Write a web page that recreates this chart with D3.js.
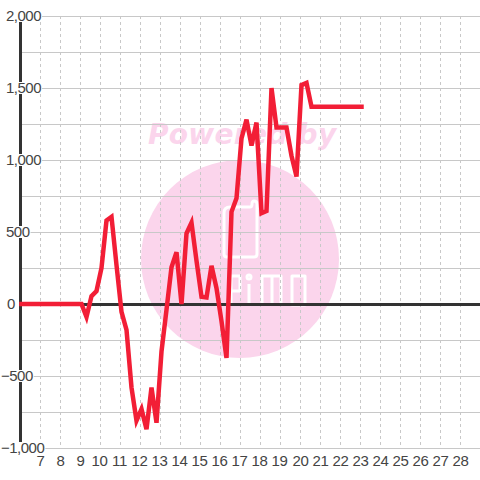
<!DOCTYPE html>
<html>
<head>
<meta charset="utf-8">
<script src="https://cdn.jsdelivr.net/npm/d3@7"></script>
<style>
  html, body { margin: 0; padding: 0; background: #fff; }
  text { font-family: "Liberation Sans", Arial, sans-serif; }
</style>
</head>
<body>
<svg id="chart" width="480" height="480"></svg>
<script>
// hour of day, one reading every quarter
const hours = [
    6, 6.25, 6.5, 6.75, 7, 7.25, 7.5, 7.75, 8, 8.25, 8.5, 8.75, 9,
    9.25, 9.5, 9.75, 10, 10.25, 10.5, 10.75, 11, 11.25, 11.5, 11.75, 12,
    12.25, 12.5, 12.75, 13, 13.25, 13.5, 13.75, 14, 14.25, 14.5, 14.75, 15,
    15.25, 15.5, 15.75, 16, 16.25, 16.5, 16.75, 17, 17.25, 17.5, 17.75, 18,
    18.25, 18.5, 18.75, 19, 19.25, 19.5, 19.75, 20, 20.25, 20.5, 20.75, 21,
    21.25, 21.5, 21.75, 22, 22.25, 22.5, 22.75, 23
];
const values = [
    0, 0, 0, 0, 0, 0, 0, 0, 0, 0, 0, 0, 0,
    -90, 55, 90, 250, 580, 605, 270, -55, -180, -580, -810, -730,
    -870, -580, -825, -330, -40, 255, 360, 0, 490, 565, 300, 50,
    45, 265, 110, -120, -375, 640, 735, 1150, 1280, 1100, 1260, 630,
    645, 1500, 1225, 1225, 1225, 1030, 885, 1520, 1535, 1370, 1370, 1370,
    1370, 1370, 1370, 1370, 1370, 1370, 1370, 1370
];
const xTicks = [7, 8, 9, 10, 11, 12, 13, 14, 15, 16, 17, 18, 19, 20, 21, 22, 23, 24, 25, 26, 27, 28];
const yGrid = [-1000, -750, -500, -250, 250, 500, 750, 1000, 1250, 1500, 1750, 2000];
const yLabels = [-1000, -500, 0, 500, 1000, 1500, 2000];

const svg = d3.select("#chart");
const x = d3.scaleLinear().domain([7, 28]).range([41, 461]);
const y = d3.scaleLinear().domain([-1000, 2000]).range([448, 16]);

// watermark under the grid
const mark = svg.append("g");
mark.append("circle")
    .attr("cx", 240).attr("cy", 259).attr("r", 99)
    .attr("fill", "#fbd5ec");
mark.append("text")
    .attr("x", 148).attr("y", 144)
    .attr("fill", "#fbd5ec")
    .style("font-size", "28px")
    .style("font-weight", "bold")
    .style("font-style", "italic")
    .style("letter-spacing", "0.3px")
    .style("font-family", "'DejaVu Sans', sans-serif")
    .text("Powered by");
const logo = mark.append("g")
    .attr("fill", "none")
    .attr("stroke", "#fff")
    .attr("stroke-width", 3)
    .attr("stroke-linejoin", "round");
logo.append("path").attr("d", "M224 213 Q224 207 230 207 H250 Q252 207 252 204 Q252 201 254 201 Q257 201 257 204 V254 Q257 257 254 257 H227 Q224 257 224 254 Z");
logo.append("path").attr("d", "M231 304 V276 H240 V291 H231 M249 284 V304 M262 304 V276 H281 V304 M272 276 V304 M292 276 H305 V305 H292 Z");
logo.append("circle").attr("cx", 249).attr("cy", 277).attr("r", 2);

// grid
svg.append("g").selectAll("line")
    .data(xTicks)
    .join("line")
    .attr("x1", d => x(d) - 0.5).attr("x2", d => x(d) - 0.5)
    .attr("y1", y(2000)).attr("y2", y(-1000))
    .attr("stroke", "#c8c8c8")
    .attr("stroke-dasharray", "3,3");

svg.append("g").selectAll("line")
    .data(yGrid)
    .join("line")
    .attr("x1", 20).attr("x2", 480)
    .attr("y1", d => y(d) + 0.5).attr("y2", d => y(d) + 0.5)
    .attr("stroke", "#c8c8c8")
    .attr("stroke-width", 1.2);

// axes
svg.append("line")
    .attr("x1", 20.5).attr("x2", 20.5)
    .attr("y1", y(2000)).attr("y2", y(-1000))
    .attr("stroke", "#333")
    .attr("stroke-width", 3);
svg.append("line")
    .attr("x1", 20).attr("x2", 480)
    .attr("y1", y(0) + 0.5).attr("y2", y(0) + 0.5)
    .attr("stroke", "#333")
    .attr("stroke-width", 3);

// y labels sit on white boxes that cut the axis and the grid
const fmt = d3.format(",");
const yLabel = svg.append("g").selectAll("g")
    .data(yLabels)
    .join("g")
    .attr("transform", d => `translate(${d < 0 ? 1 : d === 0 ? 7 : 6},${y(d)})`);
yLabel.append("text")
    .attr("dy", "0.36em")
    .attr("fill", "#444")
    .style("font-size", "15px")
    .style("letter-spacing", "-0.5px")
    .text(d => fmt(d));
yLabel.insert("rect", "text")
    .attr("x", 0).attr("y", -6)
    .attr("height", 12)
    .attr("width", function () { return this.parentNode.querySelector("text").getComputedTextLength() + 1; })
    .attr("fill", "#fff");

svg.append("g").selectAll("text")
    .data(xTicks)
    .join("text")
    .attr("x", d => x(d) - (d >= 10 && d < 20 ? 1.5 : 0.5)).attr("y", 466)
    .attr("text-anchor", "middle")
    .attr("fill", "#444")
    .style("font-size", "15px")
    .style("letter-spacing", "-0.3px")
    .text(d => d);

// series
const line = d3.line()
    .x((d, i) => x(hours[i]) + 0.5)
    .y(d => y(d));
svg.append("path")
    .datum(values)
    .attr("d", line)
    .attr("fill", "none")
    .attr("stroke", "#f21e36")
    .attr("stroke-width", 4.5)
    .attr("stroke-linecap", "square")
    .attr("stroke-linejoin", "miter");
</script>
</body>
</html>
